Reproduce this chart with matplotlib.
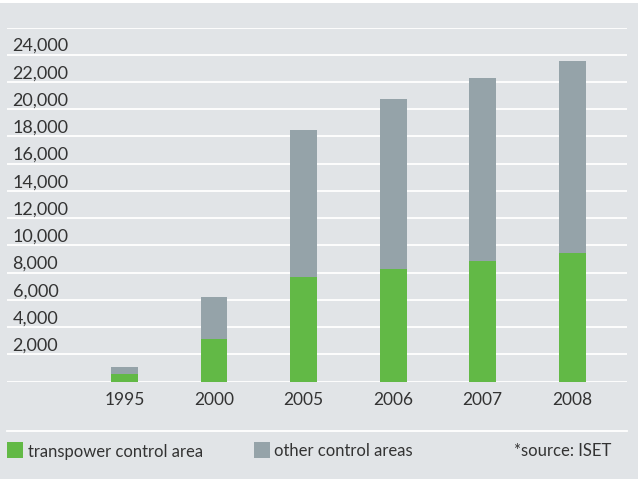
import matplotlib
matplotlib.use("Agg")
import matplotlib.pyplot as plt
from matplotlib.patches import Rectangle
from matplotlib.lines import Line2D
from matplotlib.transforms import blended_transform_factory
import numpy as np

years = ["1995", "2000", "2005", "2006", "2007", "2008"]
transpower = [590, 3150, 7670, 8250, 8840, 9430]
totals = [1080, 6200, 18500, 20780, 22320, 23570]
other = [t - g for t, g in zip(totals, transpower)]

y_ticks = list(range(2000, 26000, 2000))
y_labels = [f"{v:,}" for v in y_ticks]
legend_labels = ["transpower control area", "other control areas"]
source_note = "*source: ISET"

GREEN = "#62b946"
GREY = "#95a3a9"
BG = "#e1e4e7"
TXT = "#333333"
FS = 13

plt.rcParams['font.family'] = ['Lato', 'DejaVu Sans']

W, H = 638, 479
fig = plt.figure(figsize=(W / 100, H / 100), dpi=100, facecolor=BG)
# white strip at the very top
fig.patches.append(Rectangle((0, 1 - 3 / H), 1, 3 / H, transform=fig.transFigure,
                             facecolor="white", edgecolor="none"))

ax = fig.add_axes([7 / W, (H - 381.7) / H, 620 / W, (381.7 - 27.5) / H])
ax.set_facecolor(BG)
for s in ax.spines.values():
    s.set_visible(False)

x = np.arange(len(years))
ax.set_xlim(-1.31, 5.61)
ax.set_ylim(0, 26000)

# white gridlines, including baseline and top
for v in range(0, 26001, 2000):
    ax.axhline(v, color="white", lw=1.3, zorder=1)

ax.bar(x, transpower, width=0.30, color=GREEN, zorder=2)
ax.bar(x, other, width=0.30, bottom=transpower, color=GREY, zorder=2)

ax.set_xticks(x, years)
ax.tick_params(axis="x", length=0, pad=7.5, labelsize=12.5, labelcolor=TXT)
ax.set_yticks([])

tr = blended_transform_factory(fig.transFigure, ax.transData)
for v, lab in zip(y_ticks, y_labels):
    ax.text(12.5 / W, v + 60, lab, transform=tr, ha="left", va="bottom",
            fontsize=FS, color=TXT, clip_on=False)

# legend area
fig.add_artist(Line2D([7 / W, 627 / W], [(H - 430.7) / H] * 2, transform=fig.transFigure,
                      color="white", lw=1.3))
for (x0, col, tx0, lab) in [(7, GREEN, 27.5, legend_labels[0]),
                            (254, GREY, 274.5, legend_labels[1])]:
    fig.patches.append(Rectangle((x0 / W, (H - 457.7) / H), 16 / W, 16 / H,
                                 transform=fig.transFigure, facecolor=col, edgecolor="none"))
    fig.text(tx0 / W, (H - 451.5) / H, lab, ha="left", va="center", fontsize=12, color=TXT)
fig.text(611 / W, (H - 451.5) / H, source_note, ha="right", va="center", fontsize=12, color=TXT)

fig.savefig("out.png", dpi=100, facecolor=BG)
